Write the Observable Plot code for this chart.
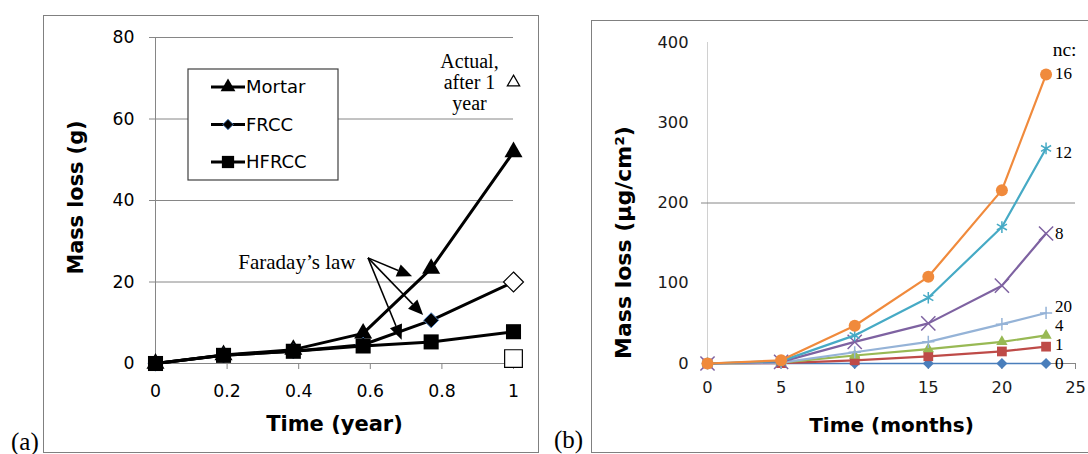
<!DOCTYPE html>
<html><head><meta charset="utf-8">
<script src="https://cdn.jsdelivr.net/npm/d3@7"></script>
<script src="https://cdn.jsdelivr.net/npm/@observablehq/plot@0.6"></script>
<style>
html,body{margin:0;padding:0;background:#fff;}
#wrap{position:relative;width:1088px;height:454px;overflow:hidden;background:#fff;}
#wrap > svg{position:absolute;top:0;}
.frame{position:absolute;border:1px solid #808080;pointer-events:none;box-sizing:border-box;}
.tag{position:absolute;font-family:"Liberation Serif","Times New Roman",serif;font-size:25px;line-height:1;color:#000;}
</style></head><body>
<div id="wrap"></div>
<script>
// ---------- Panel (a) data ----------
const timeYear = [0, 0.19, 0.385, 0.58, 0.77, 1];
const seriesA = ["Mortar", "FRCC", "HFRCC"];
const mortarLoss = [0, 2.1, 3.4, 7.4, 23.3, 51.9];
const frccLoss = [0, 2.0, 3.0, 4.6, 10.6, 20.0];
const hfrccLoss = [0, 2.0, 3.0, 4.3, 5.3, 7.8];
const actualLoss1Year = [69, 20, 1.2]; // Mortar, FRCC, HFRCC
const xTicksA = [0, 0.2, 0.4, 0.6, 0.8, 1];
const yTicksA = [0, 20, 40, 60, 80];
const faradayOrigin = [0.595, 25.8];
const faradayTargets = [[0.718, 21.3], [0.749, 11.8], [0.689, 5.7]];

// ---------- Panel (b) data ----------
const months = [0, 5, 10, 15, 20, 23];
const ncLevels = ["0", "1", "4", "20", "8", "12", "16"];
const nc0 = [0, 0, 0, 0, 0, 0];
const nc1 = [0, 0.5, 4, 9, 15, 21];
const nc4 = [0, 1, 10, 18, 27, 35];
const nc20 = [0, 1, 14, 27, 49, 63];
const nc8 = [0, 2, 27, 50, 97, 162];
const nc12 = [0, 3, 35, 82, 170, 268];
const nc16 = [0, 4, 47, 108, 216, 360];
const ncLabelAt = [0, 23.7, 47.4, 71, 162, 263, 361];
const xTicksB = [0, 5, 10, 15, 20, 25];
const yTicksB = [0, 100, 200, 300, 400];

// ---------- styles ----------
const ncColor = ["#4A7EBB", "#BE4B48", "#98B954", "#95B3D7", "#7E62A1", "#46AAC5", "#F08A3C"];
const ncSymbol = ["diamond2", "square", "triangle", "plus", "times", "asterisk", "circle"];
const ncR = [5, 5.5, 4.2, 4, 6.5, 5.5, 6];
const ncFilled = [true, true, true, false, false, false, true];
const symA = ["triangle", "diamond2", "square"];
const rA = [6.7, 6.8, 8.5];
const rActual = [4.6, 9, 10];
const sans = "'DejaVu Sans', sans-serif";
const serif = "'Liberation Serif', 'Times New Roman', serif";
const axisGray = "#868686";

const wrap = document.getElementById("wrap");

// ---------- Panel (a) ----------
const lossA = [mortarLoss, frccLoss, hfrccLoss];
const tableA = seriesA.flatMap((s, i) => timeYear.map((t, j) => ({series: s, t, loss: lossA[i][j]})));
const lastT = timeYear[timeYear.length - 1];
const actualA = seriesA.map((s, i) => ({series: s, t: lastT, loss: actualLoss1Year[i]}));

function faradayArrows(index, scales) {
  const g = d3.create("svg:g");
  const ox = scales.x(faradayOrigin[0]), oy = scales.y(faradayOrigin[1]);
  for (const [tx, ty] of faradayTargets) {
    const x2 = scales.x(tx), y2 = scales.y(ty);
    const dx = x2 - ox, dy = y2 - oy, len = Math.hypot(dx, dy), ux = dx / len, uy = dy / len;
    const L = 15, Wd = 6.5;
    const bx = x2 - ux * L, by = y2 - uy * L;
    g.append("line").attr("x1", ox).attr("y1", oy).attr("x2", bx).attr("y2", by)
      .attr("stroke", "#000").attr("stroke-width", 1.5);
    g.append("path").attr("d", `M${x2},${y2}L${bx - uy * Wd},${by + ux * Wd}L${bx + uy * Wd},${by - ux * Wd}Z`)
      .attr("fill", "#000");
  }
  return g.node();
}

const plotA = Plot.plot({
  width: 545, height: 454,
  marginLeft: 155, marginRight: 32, marginTop: 37, marginBottom: 91,
  style: {background: "transparent", fontFamily: sans, overflow: "visible"},
  x: {domain: [0, 1], label: null},
  y: {domain: [0, 80], label: null},
  marks: [
    Plot.gridY(yTicksA.filter(d => d > 0), {stroke: axisGray, strokeOpacity: 1, strokeWidth: 1}),
    Plot.axisY(yTicksA, {tickSize: 6, tickPadding: 15, fontSize: 17.3, stroke: axisGray, fill: "#000", label: null}),
    Plot.ruleX([0], {stroke: axisGray}),
    Plot.ruleY([0], {stroke: axisGray}),
    Plot.axisX(xTicksA, {tickSize: 6, tickPadding: 15, fontSize: 17.3, stroke: axisGray, fill: "#000", label: null,
      tickFormat: d => String(+d.toFixed(1))}),
    ...seriesA.flatMap((s, i) => {
      const d = tableA.filter(r => r.series === s);
      return [
        Plot.line(d, {x: "t", y: "loss", stroke: "#000", strokeWidth: 3}),
        Plot.dot(d, {x: "t", y: "loss", symbol: symA[i], r: rA[i], fill: "#000",
          stroke: s === "FRCC" ? "#4F81BD" : "none", strokeWidth: 1})
      ];
    }),
    ...seriesA.map((s, i) => Plot.dot([actualA[i]], {x: "t", y: "loss", symbol: symA[i], r: rActual[i],
      fill: "#fff", stroke: "#000", strokeWidth: 1.2})),
    faradayArrows,
    Plot.text([{x: faradayOrigin[0], y: faradayOrigin[1]}], {x: "x", y: "y", text: () => "Faraday’s law",
      textAnchor: "end", dx: -13, dy: 4, fontSize: 21, fontFamily: serif, fill: "#000"}),
    Plot.text([actualA[0]], {x: "t", y: "loss", text: () => "Actual,\nafter 1\nyear", dx: -44,
      fontSize: 20, lineHeight: 1.03, fontFamily: serif, fill: "#000"}),
    Plot.text(["Time (year)"], {frameAnchor: "bottom", dy: 67, fontSize: 21, fontWeight: "bold", fontFamily: sans, fill: "#000"}),
    Plot.text(["Mass loss (g)"], {frameAnchor: "left", textAnchor: "middle", dx: -79, dy: -3, rotate: -90,
      fontSize: 20.8, fontWeight: "bold", fontFamily: sans, fill: "#000"})
  ]
});
plotA.style.left = "0px";
wrap.appendChild(plotA);

// ---------- Panel (b) ----------
const ncValues = [nc0, nc1, nc4, nc20, nc8, nc12, nc16];
const tableB = ncLevels.flatMap((nc, i) => months.map((m, j) => ({nc, month: m, loss: ncValues[i][j]})));
const lastM = months[months.length - 1];
const labelsB = ncLevels.map((nc, i) => ({nc, month: lastM, at: ncLabelAt[i]}));

const plotB = Plot.plot({
  width: 543, height: 454,
  marginLeft: 162, marginRight: 13, marginTop: 42, marginBottom: 91,
  style: {background: "transparent", fontFamily: sans, overflow: "visible"},
  x: {domain: [0, 25], label: null},
  y: {domain: [0, 400], label: null},
  marks: [
    Plot.ruleX([0], {stroke: "#d0d0d0"}),
    Plot.ruleY([200], {stroke: axisGray}),
    Plot.axisY([200], {tickSize: 6, stroke: axisGray, tickFormat: () => "", label: null}),
    Plot.axisY(yTicksB, {tickSize: 0, tickPadding: 19, fontSize: 16.3, fill: "#1a1a1a", label: null}),
    Plot.ruleY([0], {stroke: axisGray}),
    Plot.axisX(xTicksB, {tickSize: 6, tickPadding: 12, fontSize: 16.3, stroke: axisGray, fill: "#1a1a1a", label: null}),
    ...ncLevels.flatMap((nc, i) => {
      const d = tableB.filter(r => r.nc === nc);
      return [
        Plot.line(d, {x: "month", y: "loss", stroke: ncColor[i], strokeWidth: nc === "0" ? 1.5 : 2.2}),
        Plot.dot(d, {x: "month", y: "loss", symbol: ncSymbol[i], r: ncR[i],
          fill: ncFilled[i] ? ncColor[i] : "none",
          stroke: ncFilled[i] ? "none" : ncColor[i], strokeWidth: 1.5})
      ];
    }),
    Plot.text(labelsB, {x: "month", y: "at", text: "nc", dx: 9, textAnchor: "start", fontSize: 17, fontFamily: serif, fill: "#000"}),
    Plot.text(["nc:"], {frameAnchor: "top-right", textAnchor: "end", dx: 1, fontSize: 19.5, fontFamily: serif, fill: "#000"}),
    Plot.text(["Time (months)"], {frameAnchor: "bottom", dy: 68, fontSize: 20, fontWeight: "bold", fontFamily: sans, fill: "#000"}),
    Plot.text(["Mass loss (μg/cm²)"], {frameAnchor: "left", textAnchor: "middle", dx: -84, dy: 39.5, rotate: -90,
      fontSize: 22, fontWeight: "bold", fontFamily: sans, fill: "#000"})
  ]
});
plotB.style.left = "545px";
wrap.appendChild(plotB);

// ---------- frames, legend, panel tags ----------
function addDiv(cls, css, text) {
  const d = document.createElement("div");
  d.className = cls;
  Object.assign(d.style, css);
  if (text) d.textContent = text;
  wrap.appendChild(d);
  return d;
}
addDiv("frame", {left: "43px", top: "15px", width: "496px", height: "438px"});
addDiv("frame", {left: "591px", top: "20px", width: "600px", height: "433px"});

const legendSymbols = [d3.symbolTriangle, d3.symbolDiamond2, d3.symbolSquare];
const legendSizes = [95, 70, 150];
const leg = d3.create("svg").attr("width", 152).attr("height", 113)
  .style("position", "absolute").style("left", "187px").style("top", "68px");
leg.append("rect").attr("x", 1).attr("y", 1).attr("width", 150).attr("height", 111)
  .attr("fill", "#fff").attr("stroke", "#404040").attr("stroke-width", 1.2);
seriesA.forEach((s, i) => {
  const y = 19 + i * 37.5;
  leg.append("line").attr("x1", 24).attr("x2", 58).attr("y1", y).attr("y2", y).attr("stroke", "#000").attr("stroke-width", 3);
  leg.append("path").attr("d", d3.symbol(legendSymbols[i], legendSizes[i])())
    .attr("transform", `translate(41,${y})`).attr("fill", "#000")
    .attr("stroke", s === "FRCC" ? "#4F81BD" : "none").attr("stroke-width", 1);
  leg.append("text").attr("x", 59).attr("y", y).attr("dy", "0.36em")
    .attr("font-family", sans).attr("font-size", 18).attr("fill", "#000").text(s);
});
wrap.appendChild(leg.node());

addDiv("tag", {left: "11px", top: "429px"}, "(a)");
addDiv("tag", {left: "554px", top: "427px"}, "(b)");
</script></body></html>
